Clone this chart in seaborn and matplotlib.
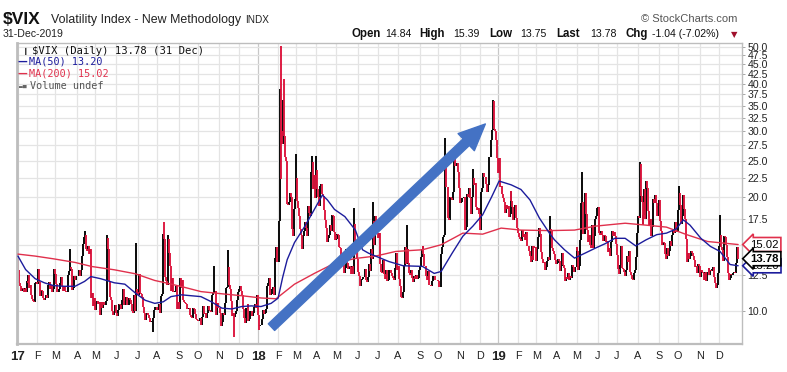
import numpy as np
import pandas as pd
import matplotlib.pyplot as plt
import seaborn as sns

# daily closes of $VIX, one list per month
vix_2017 = [
    [12.85, 11.85, 11.67, 11.32, 11.56, 11.49, 11.26, 11.54, 11.23, 12.06, 11.87, 12.48, 11.54, 11.77, 11.07, 10.81, 10.63, 10.58, 11.88, 11.99],
    [11.81, 12.93, 11.93, 10.97, 11.37, 11.29, 10.88, 10.74, 10.85, 11.07, 10.85, 11.74, 11.97, 11.57, 11.49, 11.71, 11.28, 11.47, 12.92],
    [12.54, 11.81, 11.24, 11.24, 11.45, 11.86, 12.30, 11.66, 11.35, 11.63, 11.34, 11.28, 11.28, 12.47, 12.81, 13.12, 12.96, 12.50, 11.42, 11.54, 12.37, 12.09, 12.37],
    [12.38, 12.38, 12.89, 12.39, 12.87, 14.05, 15.07, 15.77, 15.96, 14.66, 14.42, 14.93, 14.15, 14.63, 10.84, 11.17, 10.36, 10.82, 10.82],
    [10.11, 10.59, 10.68, 10.46, 10.57, 9.77, 10.57, 10.21, 10.60, 10.40, 10.42, 10.65, 15.59, 14.66, 12.04, 10.93, 10.72, 10.02, 9.81, 9.99, 10.38, 10.41],
    [9.89, 9.75, 10.07, 10.45, 10.39, 10.16, 10.70, 11.46, 10.42, 10.64, 10.90, 10.38, 10.37, 10.86, 10.75, 10.48, 10.02, 9.90, 11.06, 10.03, 11.44, 11.18],
    [11.22, 11.07, 12.54, 11.19, 11.11, 10.89, 10.30, 9.90, 9.51, 9.82, 9.89, 9.79, 9.58, 9.36, 9.43, 9.43, 9.60, 10.11, 10.29, 10.26],
    [10.09, 10.28, 10.44, 10.03, 9.93, 10.96, 11.11, 16.04, 15.51, 12.33, 12.04, 11.74, 15.55, 14.26, 13.19, 11.35, 12.25, 11.28, 11.28, 11.32, 11.70, 10.13, 10.59],
    [10.13, 12.23, 11.63, 11.55, 12.12, 10.73, 10.58, 10.50, 10.44, 10.17, 10.15, 10.18, 9.78, 9.67, 9.59, 10.21, 10.17, 9.87, 9.55, 9.51],
    [9.45, 9.51, 9.63, 9.19, 9.65, 10.33, 10.08, 9.85, 9.91, 9.61, 9.91, 10.31, 10.07, 10.05, 9.97, 11.07, 11.16, 11.23, 11.30, 9.80, 10.50, 10.18],
    [10.20, 9.93, 9.14, 9.40, 9.89, 9.78, 10.50, 11.29, 11.50, 11.59, 13.13, 11.76, 11.43, 10.65, 9.73, 9.88, 9.67, 9.87, 10.03, 10.70, 11.28],
    [11.43, 11.68, 11.33, 11.02, 10.16, 9.58, 9.34, 10.18, 10.18, 10.49, 9.42, 9.53, 10.03, 10.03, 9.72, 9.90, 10.25, 10.47, 10.18, 11.04],
]
vix_2018 = [
    [9.77, 9.15, 9.22, 9.22, 9.52, 10.08, 9.82, 9.88, 10.16, 11.66, 11.91, 12.22, 11.27, 11.03, 11.10, 11.47, 11.58, 11.08, 13.84, 14.79, 13.54],
    [13.47, 17.31, 37.32, 29.98, 27.73, 33.46, 29.06, 25.61, 24.97, 19.26, 19.13, 19.46, 20.60, 20.02, 18.72, 16.49, 15.80, 18.59, 19.85],
    [22.47, 19.59, 18.73, 17.86, 16.54, 15.94, 14.64, 15.78, 16.35, 17.23, 16.59, 15.80, 19.02, 18.20, 17.86, 23.34, 24.87, 21.03, 22.50, 22.87, 19.97],
    [23.62, 21.10, 20.06, 18.94, 21.49, 21.77, 20.47, 20.24, 18.49, 17.41, 16.56, 15.25, 15.60, 15.96, 16.88, 16.34, 18.02, 17.84, 16.24, 15.41, 15.93],
    [15.49, 15.97, 15.90, 14.77, 14.75, 13.65, 13.42, 13.23, 12.65, 13.00, 14.63, 13.42, 12.93, 13.22, 13.08, 12.58, 13.22, 12.53, 17.02, 14.94, 15.43, 13.75],
    [13.46, 12.74, 12.40, 11.64, 12.13, 12.18, 12.35, 12.34, 12.94, 12.12, 11.98, 12.31, 13.35, 12.79, 14.64, 13.77, 17.33, 14.99, 17.91, 16.85, 16.09],
    [15.60, 16.14, 14.97, 13.37, 12.69, 12.64, 13.63, 12.58, 12.18, 12.83, 12.06, 12.10, 12.87, 12.86, 12.62, 12.41, 12.29, 12.14, 13.03, 14.26, 12.83],
    [13.15, 12.19, 11.64, 11.27, 10.93, 10.85, 11.27, 13.16, 14.78, 13.31, 14.64, 13.45, 12.64, 12.49, 12.86, 12.25, 11.99, 12.41, 12.16, 12.50, 12.19, 12.25, 12.86],
    [13.16, 13.91, 14.65, 14.88, 14.16, 13.22, 13.20, 12.37, 12.07, 12.79, 11.76, 11.75, 11.68, 12.06, 12.42, 12.41, 12.12, 12.12, 12.09],
    [12.00, 11.61, 11.61, 14.22, 14.82, 15.69, 15.95, 22.96, 24.98, 21.31, 21.30, 17.62, 17.40, 20.06, 19.89, 19.64, 20.71, 25.23, 24.22, 24.16, 24.70, 23.35, 21.23],
    [19.34, 19.51, 19.96, 19.91, 20.07, 16.36, 16.72, 17.36, 20.45, 20.02, 21.25, 19.98, 18.14, 20.10, 22.48, 21.52, 21.80, 18.90, 18.49, 18.79, 18.07],
    [16.44, 20.74, 21.19, 23.23, 22.64, 22.64, 21.76, 20.65, 21.63, 24.52, 25.58, 25.58, 28.38, 30.11, 36.07, 30.41, 29.96, 28.34, 25.42],
]
vix_2019 = [
    [23.22, 25.45, 21.38, 21.40, 20.47, 19.98, 19.50, 18.19, 19.07, 18.60, 19.04, 17.80, 18.06, 20.80, 19.52, 18.89, 17.42, 18.87, 19.13, 17.66, 16.57],
    [16.14, 15.73, 15.57, 15.38, 16.37, 15.72, 15.97, 15.43, 16.22, 14.91, 14.88, 14.46, 14.02, 13.51, 14.85, 13.68, 14.91, 14.70, 14.78],
    [13.57, 14.63, 15.74, 16.59, 16.05, 14.33, 13.77, 13.41, 13.50, 12.88, 13.10, 13.56, 13.91, 13.63, 16.48, 16.33, 14.68, 14.43, 14.15, 13.71, 13.71],
    [13.36, 13.40, 13.74, 13.58, 12.82, 13.18, 14.28, 13.30, 13.02, 12.01, 12.32, 12.18, 12.60, 12.09, 12.42, 12.28, 13.25, 13.14, 12.73, 13.11, 13.12],
    [14.80, 14.42, 12.87, 13.19, 15.44, 19.32, 19.40, 16.04, 16.04, 20.55, 18.06, 16.44, 15.29, 15.96, 14.95, 14.75, 16.92, 14.75, 15.85, 17.50, 17.90, 18.71],
    [18.86, 16.97, 16.09, 15.93, 16.30, 15.94, 15.35, 15.91, 15.82, 15.28, 15.35, 14.33, 14.75, 14.04, 15.26, 16.28, 15.82, 16.21, 15.82, 15.08],
    [14.06, 12.93, 12.57, 13.28, 13.96, 14.91, 13.03, 12.93, 12.68, 12.39, 12.86, 13.97, 13.53, 14.45, 12.74, 12.48, 12.16, 12.07, 12.61, 12.83, 13.94, 16.12],
    [17.87, 17.61, 24.59, 20.17, 19.49, 16.91, 17.97, 21.09, 17.52, 22.10, 21.18, 18.47, 16.88, 17.50, 15.80, 16.68, 19.87, 19.32, 20.31, 19.35, 17.88, 18.98],
    [19.66, 17.33, 16.27, 15.00, 15.27, 15.20, 14.61, 14.22, 13.74, 14.67, 14.05, 14.44, 15.32, 14.91, 15.96, 16.28, 16.07, 17.22, 16.24, 16.24],
    [18.56, 20.56, 19.12, 17.04, 17.86, 20.28, 18.64, 17.57, 15.58, 14.57, 13.54, 14.25, 13.79, 14.00, 14.46, 14.28, 14.01, 13.71, 13.11, 13.22, 12.65, 13.33, 13.22],
    [12.30, 12.83, 12.73, 12.62, 12.07, 12.69, 12.05, 12.68, 12.69, 13.05, 12.46, 12.86, 12.78, 12.91, 13.13, 12.34, 11.87, 11.54, 11.75, 12.62],
    [14.91, 15.96, 14.80, 14.52, 13.62, 15.86, 15.68, 14.99, 13.94, 12.63, 12.14, 12.29, 12.58, 12.50, 12.51, 12.61, 12.67, 12.65, 13.43, 14.82, 13.78],
]
prev_close_2016 = 14.04

# intraday extremes that stick out beyond the close-to-close range
# (year, month, trading day in month, value)
spike_highs = [
    (2017, 1, 0, 13.8), (2017, 3, 15, 14.6), (2017, 4, 8, 16.3), (2017, 5, 12, 15.96),
    (2017, 6, 20, 15.16), (2017, 8, 8, 17.28), (2017, 8, 12, 15.9), (2017, 10, 17, 13.2),
    (2017, 11, 10, 14.5), (2018, 2, 2, 38.8), (2018, 2, 3, 50.3), (2018, 2, 5, 36.2),
    (2018, 2, 6, 41.06), (2018, 3, 0, 26.0), (2018, 3, 16, 25.7), (2018, 4, 0, 25.7),
    (2018, 5, 18, 18.8), (2018, 6, 16, 19.4), (2018, 8, 10, 16.9), (2018, 10, 8, 28.8),
    (2018, 10, 17, 26.2), (2018, 11, 14, 23.8), (2018, 12, 14, 36.2), (2019, 3, 14, 17.9),
    (2019, 5, 6, 23.4), (2019, 8, 2, 24.81), (2019, 10, 1, 21.5), (2019, 12, 1, 17.99),
]
spike_lows = [
    (2017, 7, 16, 8.84), (2017, 11, 16, 8.56), (2018, 1, 1, 8.92), (2018, 2, 3, 22.4),
]

# moving averages sampled from the chart (position in months since Jan 2017)
ma50_month = [0, 0.4, 0.9, 1.4, 1.9, 2.4, 2.9, 3.4, 3.75, 4.25, 4.9, 5.4, 5.9, 6.4, 6.9, 7.3, 7.65,
              8.15, 8.65, 9.15, 9.65, 10.15, 10.65, 11.15, 11.65, 12.15, 12.65, 13.0, 13.25, 13.5,
              13.9, 14.4, 14.9, 15.3, 15.55, 15.9, 16.4, 16.9, 17.25, 17.55, 17.9, 18.55, 19.25,
              20.15, 20.8, 21.15, 21.65, 22.15, 22.65, 23.15, 23.65, 24.05, 24.65, 25.15, 25.65,
              26.15, 26.65, 26.9, 27.4, 27.9, 28.4, 28.9, 29.4, 29.9, 30.4, 30.9, 31.4, 31.9,
              32.4, 32.9, 33.25, 33.55, 34.05, 34.55, 35.05, 35.55, 35.95]
ma50 = [14.0, 12.9, 12.2, 11.9, 11.7, 11.65, 11.65, 12.0, 12.36, 12.2, 11.9, 11.8, 11.18, 10.7, 10.5,
        10.6, 10.94, 11.06, 11.0, 10.94, 10.6, 10.2, 10.15, 10.3, 10.34, 10.3, 10.5, 10.84, 12.3,
        13.7, 15.2, 16.7, 18.6, 20.3, 19.7, 18.6, 17.8, 16.4, 14.55, 14.25, 14.0, 13.55, 13.2,
        13.15, 12.6, 12.75, 14.25, 15.8, 16.8, 18.0, 20.1, 22.1, 21.6, 21.0, 19.7, 17.65, 16.1,
        15.46, 14.55, 13.83, 14.25, 14.7, 15.1, 15.6, 15.6, 14.9, 15.46, 15.95, 16.1, 16.5,
        17.45, 16.9, 15.6, 14.85, 14.4, 13.3, 13.2]
ma200_month = [0, 0.9, 1.9, 2.9, 3.8, 4.9, 5.9, 6.9, 7.4, 8.15, 9.15, 10.15, 11.15, 12.15, 12.9,
               13.2, 13.9, 14.9, 15.9, 16.9, 17.9, 18.9, 20.15, 21.15, 21.7, 22.15, 23.15, 24.15,
               25.15, 26.65, 27.9, 28.9, 30.4, 31.4, 32.4, 33.4, 34.4, 35.95]
ma200 = [14.17, 14.0, 13.77, 13.47, 13.14, 12.88, 12.57, 12.07, 11.9, 11.63, 11.28, 11.13, 11.0,
         10.85, 10.8, 11.1, 11.8, 12.6, 13.4, 13.8, 14.0, 14.4, 14.55, 15.0, 15.6, 16.1, 16.0,
         16.6, 16.4, 16.35, 16.4, 16.8, 17.1, 16.9, 16.7, 15.95, 15.3, 15.02]

month_letters = ["J", "F", "M", "A", "M", "J", "J", "A", "S", "O", "N", "D"]
y_ticks = [10.0, 12.5, 15.0, 17.5, 20.0, 22.5, 25.0, 27.5, 30.0, 32.5, 35.0, 37.5, 40.0, 42.5, 45.0, 47.5, 50.0]

RED = "#dc143c"
NAVY = "#1c1c9c"
MA_RED = "#e0304c"

sns.set_theme(style="white")
plt.rcParams["font.family"] = ["Liberation Sans", "DejaVu Sans"]

years = [vix_2017, vix_2018, vix_2019]
months = [m for y in years for m in y]
month_len = np.array([len(m) for m in months])
month_start = np.concatenate([[0], np.cumsum(month_len)[:-1]])
closes = np.array([v for m in months for v in m])
n = len(closes)
prev = np.concatenate([[prev_close_2016], closes[:-1]])
lows = np.minimum(prev, closes)
highs = np.maximum(prev, closes)


def day_pos(year, month, k):
    return month_start[(year - 2017) * 12 + month - 1] + k


for yr, mo, k, v in spike_highs:
    i = day_pos(yr, mo, k)
    highs[i] = max(highs[i], v)
for yr, mo, k, v in spike_lows:
    i = day_pos(yr, mo, k)
    lows[i] = min(lows[i], v)


def month_to_x(mvals):
    out = []
    for m in mvals:
        j = min(int(m), len(month_len) - 1)
        out.append(month_start[j] + (m - j) * month_len[j])
    return np.array(out)


x = np.arange(n)
up = closes >= prev

fig = plt.figure(figsize=(7.87, 3.72), dpi=100)
ax = fig.add_axes([17 / 787, 28 / 372, 725 / 787, 301 / 372])

# grid
for i, s in enumerate(month_start):
    ax.axvline(s, color="#c8c8c8" if i % 12 == 0 and i > 0 else "#e4e4e4", lw=0.9, zorder=0)
for t in y_ticks:
    ax.axhline(t, color="#e4e4e4", lw=0.9, zorder=0)

ax.vlines(x[up], lows[up], highs[up], color="black", lw=1.35, zorder=2)
ax.vlines(x[~up], lows[~up], highs[~up], color=RED, lw=1.35, zorder=2)

sns.lineplot(x=month_to_x(ma200_month), y=ma200, color=MA_RED, lw=1.0, ax=ax, zorder=3)
sns.lineplot(x=month_to_x(ma50_month), y=ma50, color=NAVY, lw=1.0, ax=ax, zorder=3)

ax.set_yscale("log")
ax.set_ylim(8.2, 51.2)
ax.set_xlim(-1, n + 3)
ax.yaxis.tick_right()
ax.set_yticks(y_ticks)
ax.set_yticklabels([f"{t:.1f}" for t in y_ticks])
ax.yaxis.set_minor_locator(plt.NullLocator())
ax.tick_params(axis="y", which="major", length=2.5, width=0.6, color="#999999",
               labelsize=7.6, pad=1.5, labelcolor="#222222", right=True, left=False)

labels = []
for i in range(len(months)):
    labels.append(str(17 + i // 12) if i % 12 == 0 else month_letters[i % 12])
ax.set_xticks(month_start)
ax.set_xticklabels(labels)
ax.tick_params(axis="x", length=0, pad=5, labelsize=7.8, labelcolor="#222222")
for i, lbl in enumerate(ax.get_xticklabels()):
    if i % 12 == 0:
        lbl.set_fontweight("bold")
        lbl.set_fontsize(9.5)
ax.set_xlabel("")
ax.set_ylabel("")
for side in ["top", "right", "bottom", "left"]:
    ax.spines[side].set_color("#bdbdbd")
    ax.spines[side].set_linewidth(1.0)
ax.spines["left"].set_linewidth(2.0)
ax.spines["bottom"].set_linewidth(1.6)

# big blue arrow
ax.annotate("", xy=(0.646, 0.731), xytext=(0.351, 0.056), xycoords="axes fraction",
            arrowprops=dict(arrowstyle="simple,head_length=0.95,head_width=0.85,tail_width=0.33",
                            mutation_scale=20, color="#4472c4", shrinkA=0, shrinkB=0), zorder=5)

# value flags on the right edge
for val, txt, col, bold in [(13.20, "13.20", NAVY, False), (15.02, "15.02", MA_RED, False),
                            (13.78, "13.78", "black", True)]:
    ax.annotate(txt, xy=(1.0, val), xycoords=("axes fraction", "data"), xytext=(6, 0),
                textcoords="offset points", va="center", ha="left", fontsize=8.2,
                fontweight="bold" if bold else "normal", color="black",
                bbox=dict(boxstyle="larrow,pad=0.18", fc="white", ec=col, lw=1.2), zorder=6,
                annotation_clip=False)


def ftext(px, py, s, **kw):
    fig.text(px / 787, 1 - py / 372, s, va="center", **kw)


# header
ftext(3, 19, "$VIX", fontsize=12.5, fontweight="bold", color="#111111")
ftext(51, 20, "Volatility Index - New Methodology", fontsize=8.9, color="#222222")
ftext(245, 20, "INDX", fontsize=7.2, color="#222222")
ftext(3, 34, "31-Dec-2019", fontsize=7.6, color="#222222")
ftext(641, 19, "\u00a9 StockCharts.com", fontsize=8.0, color="#555555")
for px, s, b in [(351, "Open", True), (385, "14.84", False), (419, "High", True),
                 (453, "15.39", False), (489, "Low", True), (520, "13.75", False),
                 (556, "Last", True), (590, "13.78", False), (626, "Chg", True),
                 (652, "-1.04 (-7.02%)", False)]:
    ftext(px, 34, s, fontsize=8.3 if b else 7.6, fontweight="bold" if b else "normal",
          color="#111111")
ftext(731, 35, "\u25bc", fontsize=6, color="#a0102c", family=["DejaVu Sans"])

# legend block inside the plot
ftext(20, 51, "\u2595\u258f", fontsize=5, color="#333333", family=["DejaVu Sans"])
ftext(32, 51, "$VIX (Daily) 13.78 (31 Dec)", fontsize=7.6, color="#111111", family=["DejaVu Sans Mono"])
ftext(18, 62, "\u2014", fontsize=7, color=NAVY, fontweight="bold", family=["DejaVu Sans"])
ftext(29, 62, "MA(50) 13.20", fontsize=7.3, color=NAVY, family=["DejaVu Sans Mono"])
ftext(18, 74, "\u2014", fontsize=7, color=MA_RED, fontweight="bold", family=["DejaVu Sans"])
ftext(29, 74, "MA(200) 15.02", fontsize=7.3, color=MA_RED, family=["DejaVu Sans Mono"])
ftext(19, 86, "\u2583\u2585", fontsize=3.5, color="#666666", family=["DejaVu Sans"])
ftext(30, 86, "Volume undef", fontsize=7.3, color="#555555", family=["DejaVu Sans Mono"])

fig.savefig("out.png", dpi=100)
